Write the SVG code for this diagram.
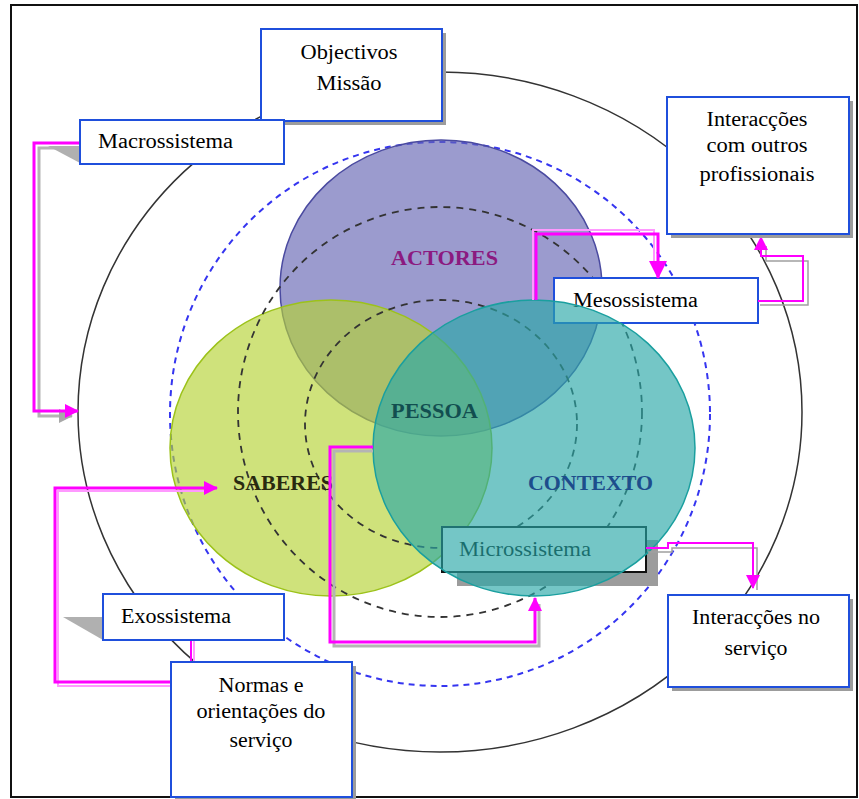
<svg xmlns="http://www.w3.org/2000/svg" width="859" height="799" viewBox="0 0 859 799">
<defs>
<marker id="ah" markerUnits="userSpaceOnUse" markerWidth="14" markerHeight="14" refX="13" refY="7" orient="auto"><path d="M0,0 L14,7 L0,14 Z" fill="#ff00ff"/></marker>
<marker id="ahb" markerUnits="userSpaceOnUse" markerWidth="18" markerHeight="18" refX="17" refY="9" orient="auto"><path d="M0,0 L18,9 L0,18 Z" fill="#ff00ff"/></marker>
<marker id="ahg" markerUnits="userSpaceOnUse" markerWidth="14" markerHeight="14" refX="13" refY="7" orient="auto"><path d="M0,0 L14,7 L0,14 Z" fill="#a8a8a8"/></marker>
</defs>
<style>
.box{fill:#fff;stroke:#1f4fdc;stroke-width:2}
.sh{fill:#9c9c9c}
.t{font-family:"Liberation Serif",serif;font-size:20px;fill:#000}
.c{text-anchor:middle}
.lab{font-family:"Liberation Serif",serif;font-size:22px;font-weight:bold}
.mg{fill:none;stroke:#ff00ff;stroke-width:3}
.mt{fill:none;stroke:#ff00ff;stroke-width:2}
.pk{fill:none;stroke:#ff99ff;stroke-width:2}
.gs{fill:none;stroke:#b4b4b4;stroke-width:3}
.gt{fill:none;stroke:#a0a0a0;stroke-width:1.5}
.dk{fill:none;stroke:#333;stroke-width:1.8;stroke-dasharray:7 6}
</style>
<rect x="0" y="0" width="859" height="799" fill="#fff"/>
<rect x="11" y="5" width="846" height="792" fill="none" stroke="#111" stroke-width="2"/>

<g id="rings">
<ellipse cx="440" cy="412" rx="362" ry="340" fill="none" stroke="#333" stroke-width="1.5"/>
<ellipse cx="440" cy="414" rx="270" ry="272" fill="none" stroke="#3535f0" stroke-width="2" stroke-dasharray="6 5"/>
</g>

<g id="actores-circle"><ellipse cx="441" cy="288" rx="161" ry="148" fill="#6666b3" fill-opacity="0.65" stroke="#4a4aa0" stroke-width="1.5"/></g>
<g id="saberes-circle"><ellipse cx="331" cy="448" rx="161" ry="148" fill="#b5d334" fill-opacity="0.65" stroke="#9cc21a" stroke-width="1.5"/></g>

<g id="dashed-rings">
<ellipse class="dk" cx="440" cy="412" rx="202" ry="205"/>
<ellipse class="dk" cx="441" cy="424" rx="136" ry="124"/>
</g>

<g id="mesossistema">
<rect class="box" x="554" y="278" width="204" height="45"/>
<text class="t" x="573" y="307" textLength="125" lengthAdjust="spacingAndGlyphs">Mesossistema</text>
</g>

<g id="microssistema">
<rect class="sh" x="457" y="540" width="201" height="46"/>
<rect x="442" y="527" width="204" height="45" fill="#fff" stroke="#111" stroke-width="2"/>
<text class="t" x="459" y="556" textLength="132" lengthAdjust="spacingAndGlyphs">Microssistema</text>
</g>

<g id="contexto-circle"><ellipse cx="534" cy="448" rx="161" ry="148" fill="#2aa8a8" fill-opacity="0.65" stroke="#1a9f9f" stroke-width="1.5"/></g>

<g id="labels">
<text class="lab" x="391" y="265" fill="#8b1a80" textLength="107" lengthAdjust="spacingAndGlyphs">ACTORES</text>
<text class="lab" x="391" y="418" fill="#124e50" textLength="87" lengthAdjust="spacingAndGlyphs">PESSOA</text>
<text class="lab" x="528" y="490" fill="#1d4d8c" textLength="125" lengthAdjust="spacingAndGlyphs">CONTEXTO</text>
<text class="lab" x="233" y="490" fill="#2a2a10" textLength="100" lengthAdjust="spacingAndGlyphs">SABERES</text>
</g>

<g id="connectors">
<polyline class="gs" points="80,148 39,148 39,416 72,416" marker-end="url(#ahg)"/>
<polyline class="mg" points="80,143 34,143 34,411 78,411" marker-end="url(#ah)"/>

<polyline class="pk" points="533,300 533,230 654,230 654,266"/>
<polyline class="mg" points="536,300 536,234 658,234 658,278" marker-end="url(#ahb)"/>

<polyline class="gt" points="760,305 808,305 808,261 766,261 766,246"/>
<polyline class="mt" points="758,301 803,301 803,256 761,256 761,237" marker-end="url(#ah)"/>

<polyline class="gt" points="648,552 672,552 672,548 757,548 757,590"/>
<polyline class="mt" points="646,548 668,548 668,543 753,543 753,588" marker-end="url(#ah)"/>

<polyline class="gs" points="373,451 334,451 334,646 539,646 539,604"/>
<polyline class="mg" points="373,447 330,447 330,642 535,642 535,598" marker-end="url(#ah)"/>

<polyline class="pk" points="171,686 58,686 58,491 205,491"/>
<polyline class="mg" points="171,682 55,682 55,488 217,488" marker-end="url(#ah)"/>

<line class="pk" x1="194" y1="638" x2="194" y2="662"/>
<line class="mt" x1="191" y1="638" x2="191" y2="662"/>
</g>

<g id="objectivos">
<rect class="sh" x="265" y="33" width="181" height="92"/>
<rect class="box" x="261" y="29" width="181" height="92"/>
<text class="t c" x="349" y="59" textLength="97" lengthAdjust="spacingAndGlyphs">Objectivos</text>
<text class="t c" x="349" y="90" textLength="65" lengthAdjust="spacingAndGlyphs">Missão</text>
</g>

<g id="macrossistema">
<polygon points="48,146 80,146 80,163" fill="#b0b0b0"/>
<rect class="box" x="80" y="120" width="204" height="44"/>
<text class="t" x="98" y="148" textLength="135" lengthAdjust="spacingAndGlyphs">Macrossistema</text>
</g>

<g id="interaccoes-outros">
<rect class="sh" x="671" y="101" width="182" height="137"/>
<rect class="box" x="667" y="97" width="182" height="137"/>
<text class="t c" x="757" y="126" textLength="101" lengthAdjust="spacingAndGlyphs">Interacções</text>
<text class="t c" x="757" y="152" textLength="101" lengthAdjust="spacingAndGlyphs">com outros</text>
<text class="t c" x="757" y="181" textLength="115" lengthAdjust="spacingAndGlyphs">profissionais</text>
</g>

<g id="interaccoes-servico">
<rect class="sh" x="672" y="599" width="181" height="92"/>
<rect class="box" x="668" y="595" width="181" height="92"/>
<text class="t c" x="756" y="624" textLength="128" lengthAdjust="spacingAndGlyphs">Interacções no</text>
<text class="t c" x="756" y="655" textLength="63" lengthAdjust="spacingAndGlyphs">serviço</text>
</g>

<g id="exossistema">
<polygon points="63,617 103,617 103,640" fill="#b0b0b0"/>
<rect class="box" x="103" y="594" width="181" height="46"/>
<text class="t" x="121" y="623" textLength="110" lengthAdjust="spacingAndGlyphs">Exossistema</text>
</g>

<g id="normas">
<rect class="sh" x="175" y="666" width="181" height="135"/>
<rect class="box" x="171" y="662" width="181" height="135"/>
<text class="t c" x="261" y="692" textLength="85" lengthAdjust="spacingAndGlyphs">Normas e</text>
<text class="t c" x="261" y="718" textLength="129" lengthAdjust="spacingAndGlyphs">orientações do</text>
<text class="t c" x="261" y="747" textLength="63" lengthAdjust="spacingAndGlyphs">serviço</text>
</g>
</svg>
